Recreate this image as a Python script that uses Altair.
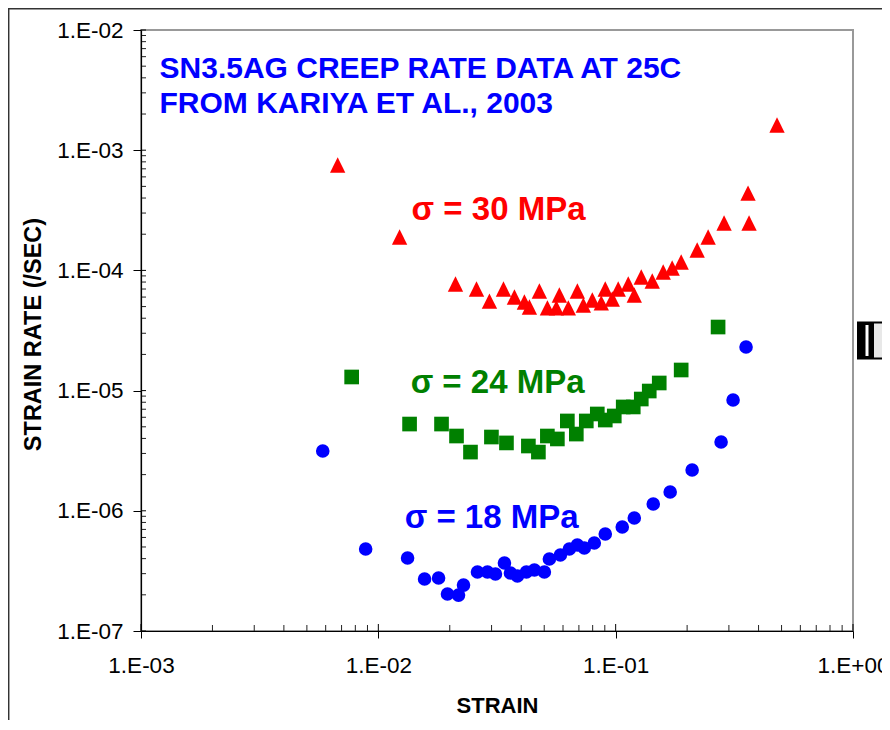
import altair as alt
import pandas as pd

# ---- data (strain, strain rate /sec) ----
# sigma = 30 MPa (red triangles)
x30 = [0.00674, 0.01229, 0.02114, 0.02592, 0.02939, 0.03367, 0.03745, 0.04125, 0.04331,
       0.04771, 0.05157, 0.05625, 0.05790, 0.06318, 0.06896, 0.07307, 0.07973, 0.08697,
       0.09040, 0.09676, 0.1025, 0.1130, 0.1198, 0.1282, 0.1426, 0.1586, 0.1730, 0.1888,
       0.2205, 0.2453, 0.2863, 0.3648, 0.3612, 0.4785]
y30 = [7.53e-4, 1.896e-4, 7.71e-5, 7.00e-5, 5.56e-5, 7.00e-5, 6.01e-5, 5.46e-5, 4.96e-5,
       6.74e-5, 4.87e-5, 4.87e-5, 6.24e-5, 4.87e-5, 6.74e-5, 5.15e-5, 5.67e-5, 5.36e-5,
       7.00e-5, 5.78e-5, 7.00e-5, 7.71e-5, 6.24e-5, 8.81e-5, 8.16e-5, 9.70e-5, 1.047e-4,
       1.175e-4, 1.478e-4, 1.896e-4, 2.48e-4, 2.48e-4, 4.40e-4, 1.621e-3]

# sigma = 24 MPa (green squares)
x24 = [0.00772, 0.01354, 0.01846, 0.02135, 0.02445, 0.02996, 0.03466, 0.04288, 0.04725,
       0.05155, 0.0568, 0.06258, 0.06826, 0.0752, 0.08367, 0.0904, 0.09865, 0.1076,
       0.1186, 0.1282, 0.1385, 0.1526, 0.1888, 0.2701]
y24 = [1.298e-5, 5.27e-6, 5.27e-6, 4.19e-6, 3.08e-6, 4.11e-6, 3.67e-6, 3.46e-6, 3.08e-6,
       4.19e-6, 3.96e-6, 5.59e-6, 4.35e-6, 5.59e-6, 6.39e-6, 5.69e-6, 6.15e-6, 7.31e-6,
       7.31e-6, 8.51e-6, 9.92e-6, 1.157e-5, 1.484e-5, 3.38e-5]

# sigma = 18 MPa (blue circles)
x18 = [0.005832, 0.008843, 0.01328, 0.01566, 0.01794, 0.01956, 0.02177, 0.02285, 0.02617,
       0.02883, 0.03115, 0.03399, 0.03603, 0.03855, 0.04206, 0.04545, 0.05007, 0.05257,
       0.05848, 0.0638, 0.06896, 0.07377, 0.08128, 0.0904, 0.1066, 0.1198, 0.1440, 0.1697,
       0.2100, 0.2781, 0.3124, 0.3543]
y18 = [3.145e-6, 4.81e-7, 4.05e-7, 2.71e-7, 2.76e-7, 2.03e-7, 1.99e-7, 2.41e-7, 3.10e-7,
       3.10e-7, 2.98e-7, 3.68e-7, 3.04e-7, 2.87e-7, 3.10e-7, 3.22e-7, 3.10e-7, 3.97e-7,
       4.29e-7, 4.81e-7, 5.19e-7, 4.90e-7, 5.40e-7, 6.41e-7, 7.33e-7, 8.71e-7, 1.139e-6,
       1.434e-6, 2.184e-6, 3.735e-6, 8.35e-6, 2.305e-5]

# annotations (text, position in data units)
note_text = ["σ = 30 MPa", "σ = 24 MPa", "σ = 18 MPa"]
note_x = [0.01381, 0.01368, 0.01291]
note_y = [2.626e-4, 9.55e-6, 7.19e-7]
note_color = ["#ff0000", "#008000", "#0000ff"]

title_lines = ["SN3.5AG CREEP RATE DATA AT 25C", "FROM KARIYA ET AL., 2003"]
title_x = [1.197e-3, 1.197e-3]
title_y = [3.99e-3, 2.04e-3]

x_major = [1e-3, 1e-2, 1e-1, 1.0]
y_major = [1e-7, 1e-6, 1e-5, 1e-4, 1e-3, 1e-2]
x_minor = [m * d for d in [1e-3, 1e-2, 1e-1] for m in range(2, 10)]
y_minor = [m * d for d in [1e-7, 1e-6, 1e-5, 1e-4, 1e-3] for m in range(2, 10)]

W, H = 712, 601
BOTTOM = 89
FONT = "Liberation Sans"

xscale = alt.Scale(type="log", domain=[1e-3, 1.0], nice=False)
yscale = alt.Scale(type="log", domain=[1e-7, 1e-2], nice=False)

lbl_expr = "datum.value >= 1 ? '1.E+00' : '1.E-0' + round(-log(datum.value) / LN10)"

xaxis = alt.Axis(values=x_major, labelExpr=lbl_expr, grid=False, tickSize=7,
                 tickColor="#000", tickWidth=1, domainColor="#000", domainWidth=1.2,
                 labelFont=FONT, labelFontSize=22.5, labelColor="#000", labelPadding=16,
                 labelFlush=False, labelOverlap=False,
                 title="STRAIN", titleFont=FONT, titleFontSize=22, titleFontWeight="bold",
                 titleColor="#000", titleX=W / 2, titleY=74, titleBaseline="middle",
                 titleAlign="center", zindex=1)
yaxis = alt.Axis(values=y_major, labelExpr=lbl_expr, grid=False, tickSize=8,
                 tickColor="#000", tickWidth=1, domainColor="#000", domainWidth=1.2,
                 labelFont=FONT, labelFontSize=22.5, labelColor="#000", labelPadding=10,
                 labelFlush=False, labelOverlap=False, labelBaseline="middle",
                 title="STRAIN RATE (/SEC)", titleFont=FONT, titleFontSize=23.5,
                 titleFontWeight="bold", titleColor="#000", titleX=-108, titleY=304,
                 titleAngle=270, titleAlign="center", titleBaseline="middle", zindex=1)


def X():
    return alt.X("x:Q", scale=xscale, axis=xaxis)


def Y():
    return alt.Y("y:Q", scale=yscale, axis=yaxis)


d30 = pd.DataFrame({"x": x30, "y": y30})
d24 = pd.DataFrame({"x": x24, "y": y24})
d18 = pd.DataFrame({"x": x18, "y": y18})

tri = alt.Chart(d30).mark_point(shape="M0,-1L1,1L-1,1Z", filled=True, opacity=1,
                                size=235, color="#ff0000").encode(x=X(), y=Y())
sq = alt.Chart(d24).mark_point(shape="square", filled=True, opacity=1,
                               size=215, color="#008000").encode(x=X(), y=Y())
ci = alt.Chart(d18).mark_point(shape="circle", filled=True, opacity=1,
                               size=185, color="#0000ff").encode(x=X(), y=Y())

notes_df = pd.DataFrame({"x": note_x, "y": note_y, "t": note_text, "c": note_color})
notes = alt.Chart(notes_df).mark_text(align="left", baseline="alphabetic", font=FONT,
                                      fontSize=33, fontWeight="bold").encode(
    x=X(), y=Y(), text="t:N", color=alt.Color("c:N", scale=None))

title_df = pd.DataFrame({"x": title_x, "y": title_y, "t": title_lines})
titles = alt.Chart(title_df).mark_text(align="left", baseline="alphabetic", font=FONT,
                                       fontSize=30, fontWeight="bold",
                                       color="#0000ff").encode(x=X(), y=Y(), text="t:N")

# tick marks inside the plot area (Excel-style cross / inside ticks)
xmin_df = pd.DataFrame({"x": x_minor})
xmaj_df = pd.DataFrame({"x": x_major})
ymin_df = pd.DataFrame({"y": y_minor})
ymaj_df = pd.DataFrame({"y": y_major})

xminor = alt.Chart(xmin_df).mark_rule(color="#222", strokeWidth=1).encode(
    x=X(), y=alt.value(H), y2=alt.value(H - 6))
xmajin = alt.Chart(xmaj_df).mark_rule(color="#000", strokeWidth=1).encode(
    x=X(), y=alt.value(H), y2=alt.value(H - 7))
yminor = alt.Chart(ymin_df).mark_rule(color="#222", strokeWidth=1).encode(
    y=Y(), x=alt.value(0), x2=alt.value(5))
ymajin = alt.Chart(ymaj_df).mark_rule(color="#000", strokeWidth=1).encode(
    y=Y(), x=alt.value(0), x2=alt.value(5))

# outer frame of the white panel and a clipped legend key at the right edge
one = pd.DataFrame({"a": [0]})
frame_l = alt.Chart(one).mark_rule(color="#333", strokeWidth=1.5).encode(
    x=alt.value(-132.3), y=alt.value(-22), y2=alt.value(H + BOTTOM))
frame_t = alt.Chart(one).mark_rule(color="#333", strokeWidth=1.5).encode(
    y=alt.value(-21.3), x=alt.value(-133), x2=alt.value(W + 29))
key_bg = alt.Chart(one).mark_rect(fill="#e8e8e8", stroke="#000", strokeWidth=2).encode(
    x=alt.value(717), x2=alt.value(760), y=alt.value(292.5), y2=alt.value(328.5))
key_blk = alt.Chart(one).mark_rect(fill="#000").encode(
    x=alt.value(717), x2=alt.value(733), y=alt.value(292.5), y2=alt.value(328.5))
key_wht = alt.Chart(one).mark_rect(fill="#ffffff").encode(
    x=alt.value(724.5), x2=alt.value(727.5), y=alt.value(295), y2=alt.value(326))

chart = alt.layer(
    xminor, xmajin, yminor, ymajin, tri, sq, ci, notes, titles,
    frame_l, frame_t, key_bg, key_blk, key_wht
).properties(
    width=W, height=H,
    autosize=alt.AutoSizeParams(type="none"),
    padding={"left": 133, "top": 22, "right": 29, "bottom": BOTTOM},
    background="#ffffff",
).configure_view(
    stroke="#999999", strokeWidth=2
)

chart.save("out.html", embed_options={"renderer": "svg", "actions": False})
